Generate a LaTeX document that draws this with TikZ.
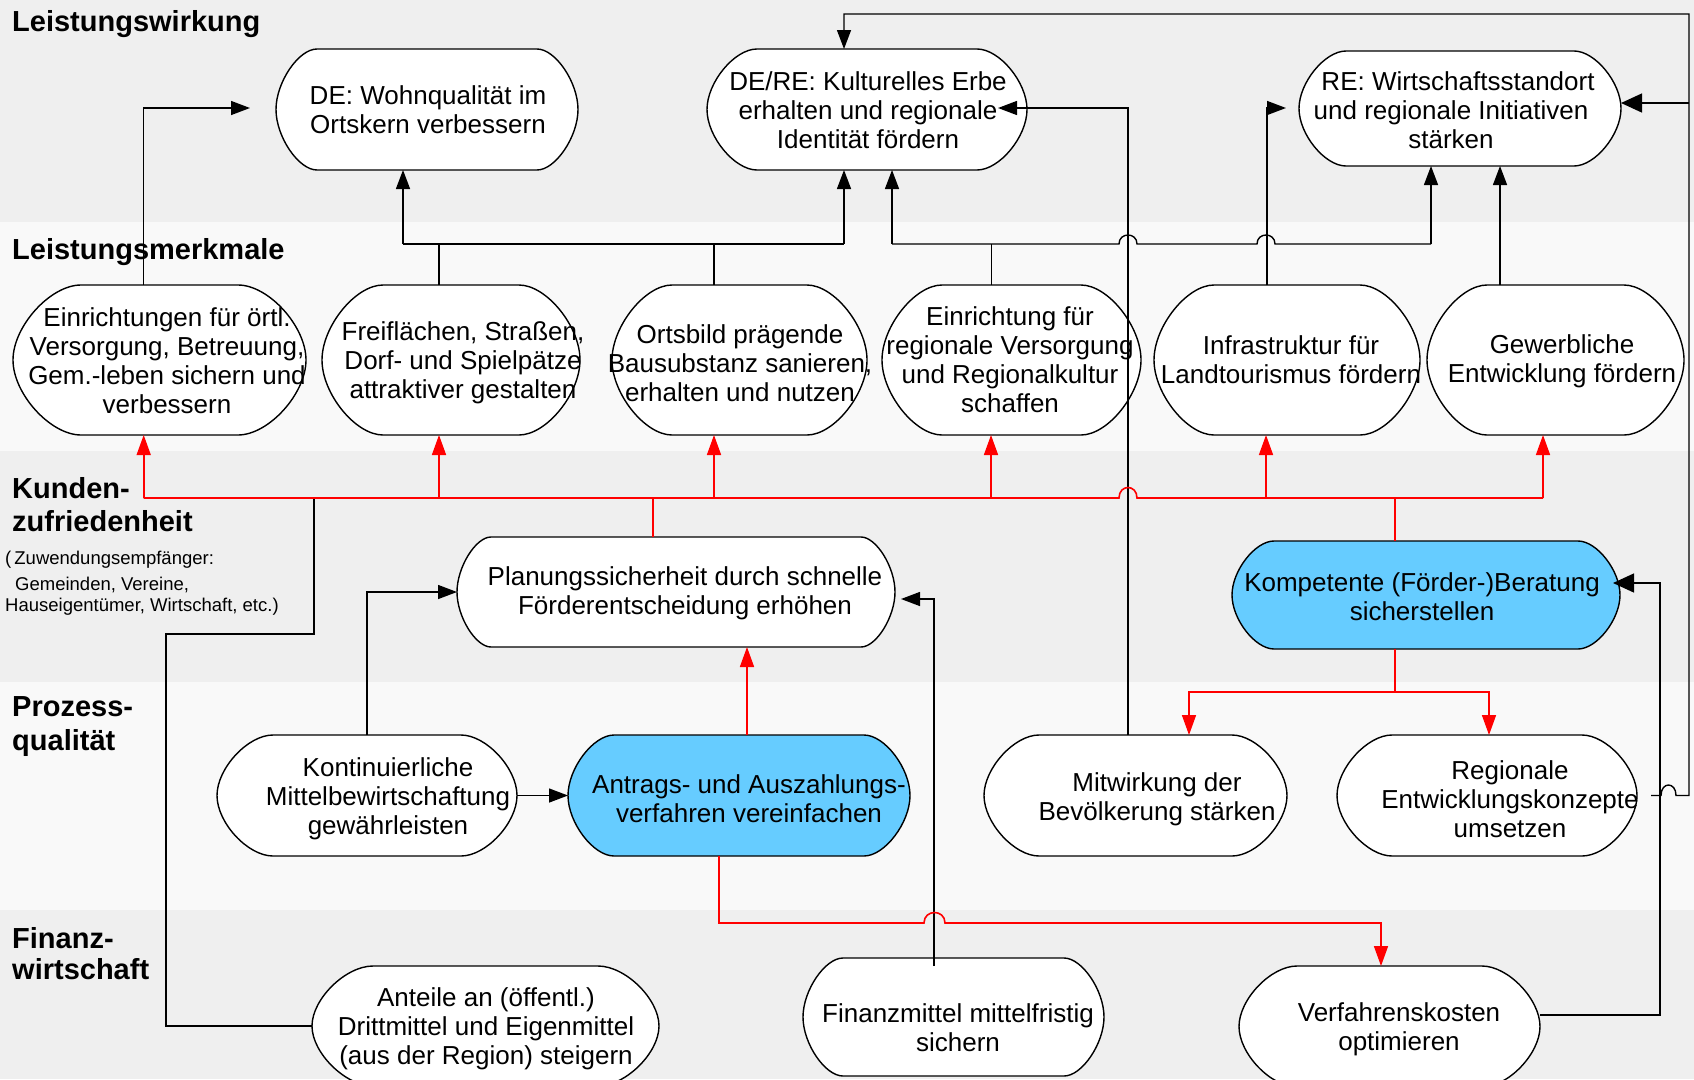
\documentclass[tikz,border=0pt]{standalone}
\usepackage{fontspec}
\setmainfont{Liberation Sans}
\usetikzlibrary{arrows.meta}
\definecolor{bandA}{HTML}{EFEFEF}
\definecolor{bandB}{HTML}{F9F9F9}
\definecolor{boxblue}{HTML}{66CCFF}
\definecolor{lred}{HTML}{FF0000}
\newcommand\termbox[7]{%
  \pgfmathsetmacro\tbym{(#3+#5)/2}%
  \pgfmathsetmacro\tbk{0.225*(#5-#3)}%
  \pgfmathsetmacro\tbr{0.55*#6}%
  \pgfmathsetmacro\tbw{#4-#2}%
  \pgfmathsetmacro\tbh{#5-#3}%
  \pgfmathsetmacro\tbx{(#2+#4)/2}%
  \filldraw[boxline,fill=#7] ({#2+#6},#3) -- ({#4-#6},#3)
    .. controls ({#4-\tbr},#3) and (#4,{\tbym-\tbk}) .. (#4,\tbym)
    .. controls (#4,{\tbym+\tbk}) and ({#4-\tbr},#5) .. ({#4-#6},#5)
    -- ({#2+#6},#5)
    .. controls ({#2+\tbr},#5) and (#2,{\tbym+\tbk}) .. (#2,\tbym)
    .. controls (#2,{\tbym-\tbk}) and ({#2+\tbr},#3) .. cycle;
  \node[boxnode,minimum width=\tbw pt,minimum height=\tbh pt] (#1) at (\tbx,\tbym) {};
}
\begin{document}
\begin{tikzpicture}[x=1pt,y=-1pt,
  boxline/.style={draw=black,line width=1.4pt},
  boxnode/.style={draw=none,rectangle,inner sep=0pt,outer sep=0pt},
  btext/.style={font=\fontsize{26}{29}\selectfont,align=center,inner sep=0pt},
  headtxt/.style={font=\bfseries\fontsize{29}{33}\selectfont,anchor=base west,inner sep=0pt},
  smalltxt/.style={font=\fontsize{18.5}{22}\selectfont,anchor=base west,inner sep=0pt},
  conn/.style={line width=1.4pt,draw=black},
  arr/.style={conn,-{Triangle[length=19pt,width=14pt]}},
  bigarr/.style={conn,-{Triangle[length=21pt,width=19pt]}},
  rconn/.style={line width=1.6pt,draw=lred},
  rarr/.style={rconn,-{Triangle[length=20pt,width=14pt]}}]
\useasboundingbox (0,0) rectangle (1694,1079);
\clip (0,0) rectangle (1694,1079);
% bands
\fill[bandA] (0,0) rectangle (1694,222);
\fill[bandB] (0,222) rectangle (1694,451);
\fill[bandA] (0,451) rectangle (1694,682);
\fill[bandB] (0,682) rectangle (1694,910);
\fill[bandA] (0,910) rectangle (1694,1079);
% headings
\node[headtxt] (h1) at (12,31) {Leistungswirkung};
\node[headtxt] (h2) at (12,259) {Leistungsmerkmale};
\node[headtxt] (h3a) at (12,498) {Kunden-};
\node[headtxt] (h3b) at (12,531) {zufriedenheit};
\node[smalltxt] (s1) at (5,564) {(\,Zuwendungsempfänger:};
\node[smalltxt] (s2) at (15,590) {Gemeinden, Vereine,};
\node[smalltxt] (s3) at (5,611) {Hauseigentümer, Wirtschaft, etc.)};
\node[headtxt] (h4a) at (12,716) {Prozess-};
\node[headtxt] (h4b) at (12,750) {qualität};
\node[headtxt] (h5a) at (12,948) {Finanz-};
\node[headtxt] (h5b) at (12,979) {wirtschaft};
% boxes
\termbox{de}{276}{49}{578}{170}{41}{white}
\termbox{dere}{707}{49}{1027}{170}{50}{white}
\termbox{re}{1299}{51}{1621}{166}{47}{white}
\termbox{einr}{13}{285}{306}{435}{68}{white}
\termbox{frei}{322}{285}{580}{435}{61}{white}
\termbox{orts}{612}{285}{867}{435}{60}{white}
\termbox{regv}{882}{285}{1141}{435}{60}{white}
\termbox{infra}{1154}{285}{1420}{435}{60}{white}
\termbox{gew}{1427}{285}{1684}{435}{60}{white}
\termbox{plan}{457}{537}{895}{647}{34}{white}
\termbox{komp}{1232}{541}{1620}{649}{42}{boxblue}
\termbox{kont}{217}{735}{517}{856}{56}{white}
\termbox{antr}{568}{735}{910}{856}{46}{boxblue}
\termbox{mitw}{984}{735}{1287}{856}{55}{white}
\termbox{regk}{1337}{735}{1637}{856}{55}{white}
\termbox{ant}{312}{966}{659}{1086}{61}{white}
\termbox{fin}{803}{958}{1104}{1076}{40}{white}
\termbox{verf}{1239}{966}{1540}{1087}{58}{white}
% box texts
\node[btext] (de-t) at (428,109.5) {DE: Wohnqualität im\\Ortskern verbessern};
\node[btext] (dere-t) at (868,110.5) {DE/RE: Kulturelles Erbe\\erhalten und regionale\\Identität fördern};
\node[btext] (re-t) at (1451,110) {\hspace*{14pt}RE: Wirtschaftsstandort\\und regionale Initiativen\\stärken};
\node[btext] (einr-t) at (167,361) {Einrichtungen für örtl.\\Versorgung, Betreuung,\\Gem.-leben sichern und\\verbessern};
\node[btext] (frei-t) at (463,363) {Freiflächen, Straßen,\\Dorf- und Spielpätze\\attraktiver gestalten};
\node[btext] (orts-t) at (740,363) {Ortsbild prägende\\Bausubstanz sanieren,\\erhalten und nutzen};
\node[btext] (regv-t) at (1010,359.5) {Einrichtung für\\regionale Versorgung\\und Regionalkultur\\schaffen};
\node[btext] (infra-t) at (1291,360) {Infrastruktur für\\Landtourismus fördern};
\node[btext] (gew-t) at (1562,361) {Gewerbliche\\Entwicklung fördern};
\node[btext] (plan-t) at (685,593) {Planungssicherheit durch schnelle\\Förderentscheidung erhöhen};
\node[btext] (komp-t) at (1422,597) {Kompetente (Förder-)Beratung\\sicherstellen};
\node[btext] (kont-t) at (388,799) {Kontinuierliche\\Mittelbewirtschaftung\\gewährleisten};
\node[btext] (antr-t) at (749,799) {Antrags- und Auszahlungs-\\verfahren vereinfachen};
\node[btext] (mitw-t) at (1157,799) {Mitwirkung der\\Bevölkerung stärken};
\node[btext] (regk-t) at (1510,799) {Regionale\\Entwicklungskonzepte\\umsetzen};
\node[btext] (ant-t) at (486,1029) {Anteile an (öffentl.)\\Drittmittel und Eigenmittel\\(aus der Region) steigern};
\node[btext] (fin-t) at (958,1028) {Finanzmittel mittelfristig\\sichern};
\node[btext] (verf-t) at (1399,1029) {Verfahrenskosten\\optimieren};
% free end points
\coordinate (deIn) at (250,108);
\coordinate (reIn) at (1286,108);
\coordinate (dereIn) at (998,108);
\coordinate (kompIn) at (1613,583);
\coordinate (planIn) at (901,599);
% black connectors
\draw[arr] (143.7,0 |- einr.north) -- (143.7,108) -- (deIn);
\draw[conn] (439,0 |- frei.north) -- (439,244);
\draw[conn] (714,0 |- orts.north) -- (714,244);
\draw[conn] (403,244) -- (844,244);
\draw[arr] (403,244) -- (403,0 |- de.south);
\draw[arr] (844,244) -- (844,0 |- dere.south);
\draw[conn] (991.5,0 |- regv.north) -- (991.5,244);
\draw[conn] (892,244) -- (1119,244) .. controls (1119,232) and (1137,232) .. (1137,244)
   -- (1257,244) .. controls (1257,232) and (1275,232) .. (1275,244) -- (1431,244);
\draw[arr] (892,244) -- (892,0 |- dere.south);
\draw[arr] (1431,244) -- (1431,0 |- re.south);
\draw[arr] (1267,0 |- infra.north) -- (1267,108) -- (reIn);
\draw[arr] (1500,0 |- gew.north) -- (1500,0 |- re.south);
\draw[arr] (1128,0 |- mitw.north) -- (1128,108) -- (dereIn);
\draw[arr] ([xshift=14pt]regk.east) -- (1661,795.5) .. controls (1661,781.5) and (1676,781.5) .. (1676,795.5)
   -- (1689,795.5) -- (1689,14) -- (844,14) -- (844,0 |- dere.north);
\draw[bigarr] (1689,103) -- (re.east |- 0,103);
\draw[bigarr] (verf.east |- 0,1015) -- (1660,1015) -- (1660,583) -- (kompIn);
\draw[arr] ([yshift=-8pt]934,0 |- fin.north) -- (934,599) -- (planIn);
\draw[conn] (ant.west |- 0,1026) -- (166,1026) -- (166,634) -- (314,634) -- (314,498);
\draw[arr] (kont.north) |- (plan.west);
\draw[arr] (kont.east) -- (antr.west);
% red connectors
\draw[rconn] (143.7,498) -- (1119,498) .. controls (1119,484) and (1137,484) .. (1137,498) -- (1543,498);
\draw[rarr] (143.7,498) -- (143.7,0 |- einr.south);
\draw[rarr] (439,498) -- (439,0 |- frei.south);
\draw[rarr] (714,498) -- (714,0 |- orts.south);
\draw[rarr] (991,498) -- (991,0 |- regv.south);
\draw[rarr] (1266,498) -- (1266,0 |- infra.south);
\draw[rarr] (1543,498) -- (1543,0 |- gew.south);
\draw[rconn] (653,0 |- plan.north) -- (653,498);
\draw[rconn] (1395,0 |- komp.north) -- (1395,498);
\draw[rarr] (747,0 |- antr.north) -- (747,0 |- plan.south);
\draw[rconn] (1395,0 |- komp.south) -- (1395,692);
\draw[rarr] (1395,692) -| (1189,0 |- mitw.north);
\draw[rarr] (1395,692) -| (1489,0 |- regk.north);
\draw[rarr] (719,0 |- antr.south) -- (719,923) -- (924,923) .. controls (924,909) and (945,909) .. (945,923)
   -- (1381,923) -- (1381,0 |- verf.north);
\end{tikzpicture}
\end{document}
